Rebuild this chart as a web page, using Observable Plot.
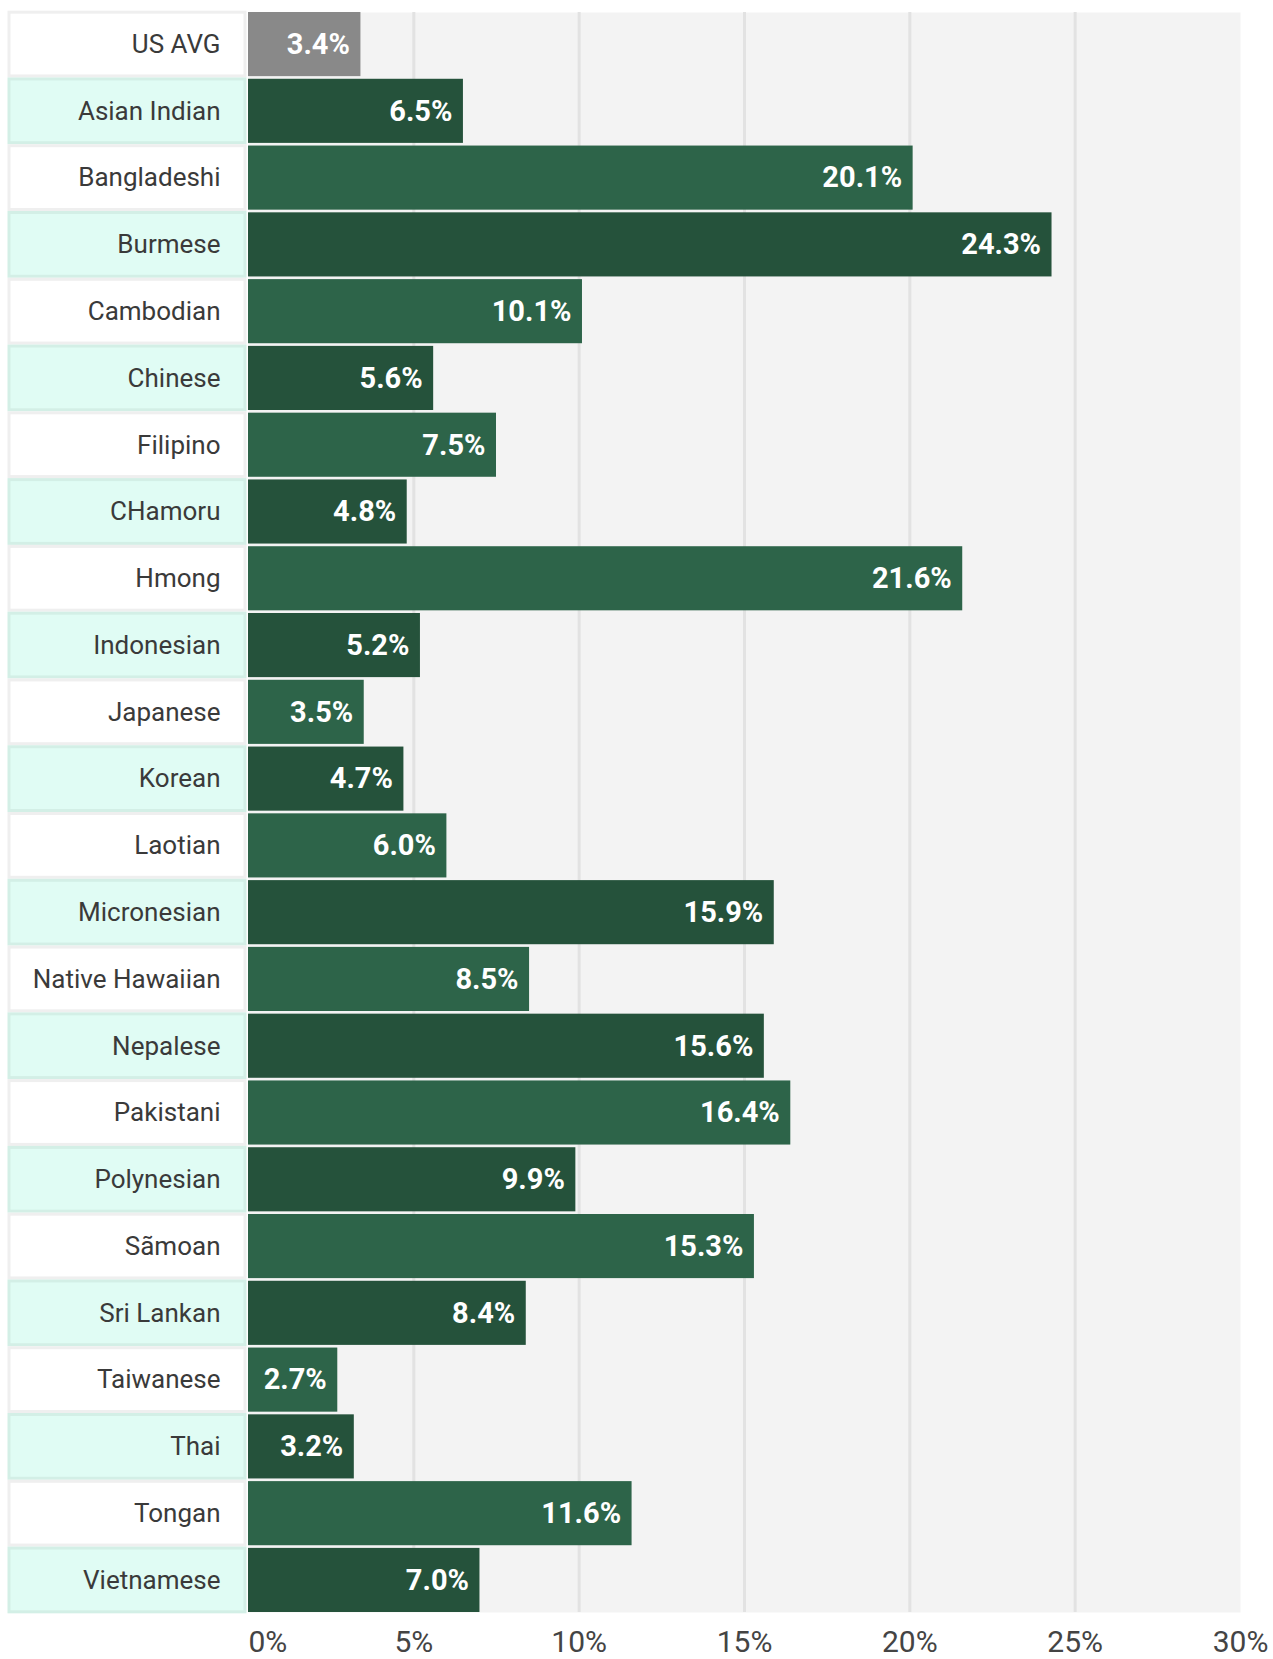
<!DOCTYPE html>
<html>
<head>
<meta charset="utf-8">
<script src="https://cdn.jsdelivr.net/npm/d3@7"></script>
<script src="https://cdn.jsdelivr.net/npm/@observablehq/plot@0.6"></script>
<style>
  html, body { margin: 0; padding: 0; background: #fff; }
  #chart svg { display: block; font-family: Roboto, "Noto Sans", sans-serif; }
</style>
</head>
<body>
<div id="chart"></div>
<script>
const categories = ["US AVG", "Asian Indian", "Bangladeshi", "Burmese", "Cambodian", "Chinese", "Filipino", "CHamoru", "Hmong", "Indonesian", "Japanese", "Korean", "Laotian", "Micronesian", "Native Hawaiian", "Nepalese", "Pakistani", "Polynesian", "Sãmoan", "Sri Lankan", "Taiwanese", "Thai", "Tongan", "Vietnamese"];
const values = [3.4, 6.5, 20.1, 24.3, 10.1, 5.6, 7.5, 4.8, 21.6, 5.2, 3.5, 4.7, 6.0, 15.9, 8.5, 15.6, 16.4, 9.9, 15.3, 8.4, 2.7, 3.2, 11.6, 7.0];
const tickValues = [0, 5, 10, 15, 20, 25, 30];
const gridValues = [5, 10, 15, 20, 25];

const data = categories.map((name, i) => ({name, value: values[i], i}));

const barColor = d => d.i === 0 ? "#898989" : (d.i % 2 === 1 ? "#25523b" : "#2d6449");

// Label column cells (alternating white / mint), drawn from the y band scale
function labelCells(index, scales, channels, dimensions) {
  const y = scales.y;
  const bw = y.bandwidth ? y.bandwidth() : 64;
  const step = y.step ? y.step() : bw;
  const g = d3.create("svg:g");
  categories.forEach((c, i) => {
    const top = y(c) - (step - bw) / 2;
    const mint = i % 2 === 1;
    g.append("rect")
      .attr("x", 9)
      .attr("y", top + 1.5)
      .attr("width", 236)
      .attr("height", step - 3)
      .attr("fill", mint ? "#e0fcf4" : "#ffffff")
      .attr("stroke", mint ? "#d3efe6" : "#efefef")
      .attr("stroke-width", 3);
  });
  return g.node();
}

const chart = Plot.plot({
  width: 1273,
  height: 1659,
  marginLeft: 248,
  marginRight: 33,
  marginTop: 12,
  marginBottom: 47,
  style: {fontFamily: "Roboto, 'Noto Sans', sans-serif", background: "#fff"},
  x: {domain: [0, 30], axis: null},
  y: {domain: categories, axis: null, paddingInner: 0.04, paddingOuter: 0, round: false},
  marks: [
    Plot.frame({fill: "#f3f3f3", stroke: "none"}),
    Plot.ruleX(gridValues, {stroke: "#e2e2e2", strokeWidth: 3}),
    labelCells,
    Plot.text(data, {y: "name", text: "name", frameAnchor: "left", textAnchor: "end", dx: -28, fontSize: 26, fill: "#3a3a3a", letterSpacing: "0.3px"}),
    Plot.barX(data, {x: "value", y: "name", fill: barColor}),
    Plot.text(data, {x: "value", y: "name", text: d => d.value.toFixed(1) + "%", textAnchor: "end", dx: -11, fill: "#ffffff", fontSize: 29, fontWeight: "bold", letterSpacing: "0.5px"}),
    Plot.text(tickValues.filter(t => t === 0), {x: d => d, text: d => d + "%", frameAnchor: "bottom", dy: 39, textAnchor: "start", fontSize: 30, fill: "#444"}),
    Plot.text(tickValues.filter(t => t !== 0), {x: d => d, text: d => d + "%", frameAnchor: "bottom", dy: 39, fontSize: 30, fill: "#444"})
  ]
});
document.getElementById("chart").appendChild(chart);
</script>
</body>
</html>
